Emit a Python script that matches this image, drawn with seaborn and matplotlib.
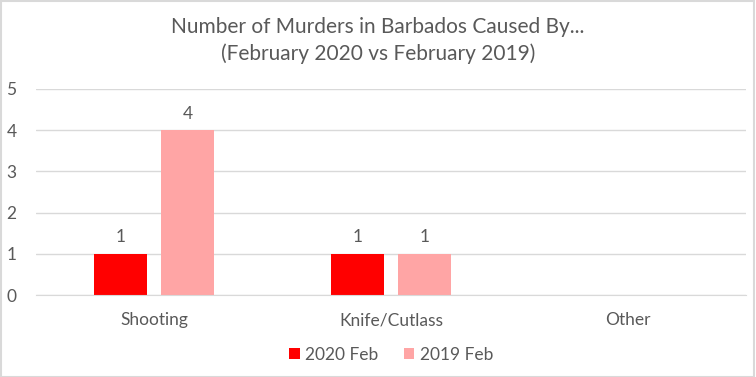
import numpy as np
import pandas as pd
import seaborn as sns
import matplotlib.pyplot as plt
from matplotlib.patches import Rectangle

# Chart data
categories = ['Shooting', 'Knife/Cutlass', 'Other']
series_names = ['2020 Feb', '2019 Feb']
feb_2020 = [1, 1, np.nan]
feb_2019 = [4, 1, np.nan]
colors = ['#FF0000', '#FFA5A5']

df = pd.DataFrame({
    'Cause': categories * 2,
    'Period': [series_names[0]] * 3 + [series_names[1]] * 3,
    'Murders': feb_2020 + feb_2019,
})

sns.set_style('white')
plt.rcParams['font.family'] = ['Lato', 'DejaVu Sans']
text_color = '#595959'

fig = plt.figure(figsize=(7.56, 3.77), dpi=100)
ax = fig.add_axes([0.0476, 0.2175, 0.9394, 0.5465])

sns.barplot(data=df, x='Cause', y='Murders', hue='Period', order=categories,
            hue_order=series_names, palette=colors, width=0.566, gap=0.21,
            saturation=1, linewidth=0, ax=ax, legend=True)

# Value labels above bars
for cont in ax.containers:
    labels = ['' if np.isnan(b.get_height()) else f'{b.get_height():g}' for b in cont]
    ax.bar_label(cont, labels=labels, padding=6, fontsize=12.5, color=text_color)

ax.set_ylim(0, 5)
ax.set_yticks(range(0, 6))
ax.set_xlim(-0.5, 2.5)
ax.yaxis.grid(True, color='#D9D9D9', linewidth=1)
ax.set_axisbelow(True)
for s in ['top', 'right', 'left']:
    ax.spines[s].set_visible(False)
ax.spines['bottom'].set_color('#D9D9D9')
ax.tick_params(axis='both', length=0, labelsize=12.5, labelcolor=text_color)
ax.tick_params(axis='y', pad=14)
ax.tick_params(axis='x', pad=12.5)
ax.set_xlabel('')
ax.set_ylabel('')

fig.suptitle('Number of Murders in Barbados Caused By...\n(February 2020 vs February 2019)',
             y=0.955, fontsize=15, color=text_color, linespacing=1.4)

ax.legend(loc='center', bbox_to_anchor=(0.5, -0.29), ncol=2, frameon=False,
          fontsize=12.5, labelcolor=text_color, handlelength=0.6, handleheight=0.6,
          columnspacing=1.5, handletextpad=0.3)

fig.patches.append(Rectangle((0.001, 0.001), 0.997, 0.997, transform=fig.transFigure,
                             fill=False, edgecolor='#D9D9D9', linewidth=1.5))

fig.savefig('out.png', dpi=100)
